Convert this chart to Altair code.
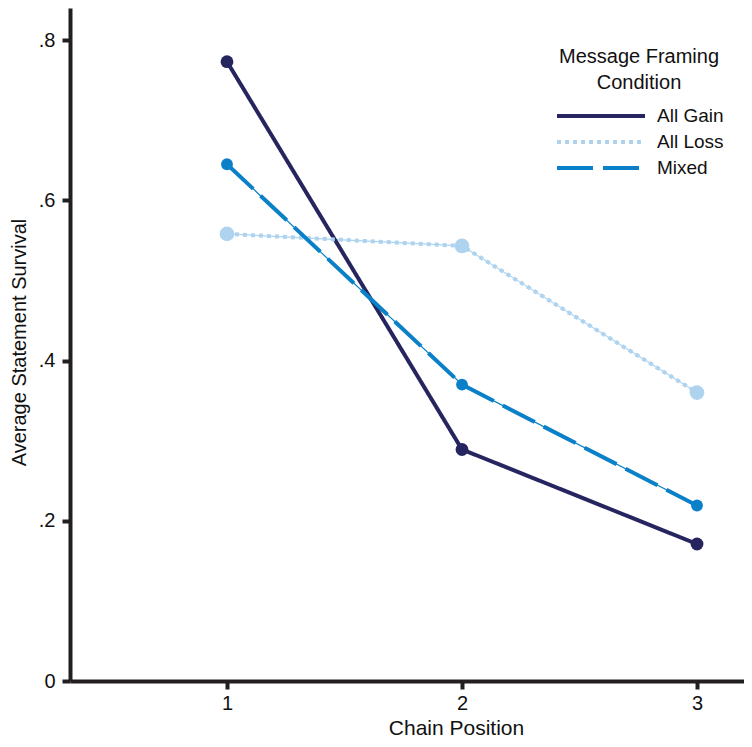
import altair as alt
import pandas as pd

conditions = ["All Gain", "All Loss", "Mixed"]
positions = [1, 2, 3]
all_gain = [0.773, 0.289, 0.171]
all_loss = [0.558, 0.543, 0.360]
mixed = [0.645, 0.370, 0.219]

colors = ["#27255F", "#AED3EE", "#0A80C8"]
dashes = [[1, 0], [4, 4], [36, 10]]
point_sizes = [165, 215, 140]

rows = []
for cond, vals in zip(conditions, [all_gain, all_loss, mixed]):
    for p, v in zip(positions, vals):
        rows.append({"condition": cond, "position": p, "value": v})
df = pd.DataFrame(rows)

FONT = "Liberation Sans"
AX = "#231F20"
TXT = "#111111"

x = alt.X(
    "position:Q",
    scale=alt.Scale(domain=[0.332, 3.2], nice=False, zero=False),
    axis=alt.Axis(
        values=[1, 2, 3], format="d", title="Chain Position", grid=False,
        domainWidth=4, domainColor=AX, tickWidth=4, tickColor=AX, tickSize=8,
        labelFontSize=20, labelColor=TXT, labelFont=FONT, labelPadding=4,
        titleFontSize=21, titleFont=FONT, titleFontWeight="normal", titleColor=TXT,
        titleX=386, titleAnchor="start", titleAlign="center", titlePadding=4,
    ),
)
y = alt.Y(
    "value:Q",
    scale=alt.Scale(domain=[0, 0.84], nice=False),
    axis=alt.Axis(
        values=[0, 0.2, 0.4, 0.6, 0.8], title="Average Statement Survival", grid=False,
        labelExpr="datum.value == 0 ? '0' : replace(format(datum.value, '.1f'), '0.', '.')",
        domainWidth=4, domainColor=AX, tickWidth=4, tickColor=AX, tickSize=8,
        labelFontSize=20, labelColor=TXT, labelFont=FONT, labelPadding=7,
        titleFontSize=20, titleFont=FONT, titleFontWeight="normal", titleColor=TXT,
        titleX=-51, titleY=334, titleAngle=270, titleAlign="center", titleBaseline="middle",
    ),
)

color_scale = alt.Scale(domain=conditions, range=colors)

base = alt.Chart(df)

thin = base.mark_line(strokeWidth=1.2).encode(
    x=x, y=y,
    color=alt.Color("condition:N", scale=color_scale, legend=None),
    detail="condition:N",
)

legend = alt.Legend(
    title=["Message Framing", "Condition"],
    orient="none", legendX=485, legendY=39,
    titleFontSize=20, titleFont=FONT, titleFontWeight="normal", titleColor=TXT,
    titleAnchor="middle", titleAlign="center", titlePadding=10, titleLineHeight=26,
    labelFontSize=19, labelFont=FONT, labelColor=TXT, labelOffset=76,
    symbolType="M-1,0H7", symbolSize=484, symbolStrokeWidth=4,
    rowPadding=3,
)

thick = base.mark_line(strokeWidth=4).encode(
    x=x, y=y,
    color=alt.Color("condition:N", scale=color_scale, legend=legend),
    strokeDash=alt.StrokeDash("condition:N", scale=alt.Scale(domain=conditions, range=dashes), legend=legend),
)

points = base.mark_circle(opacity=1).encode(
    x=x, y=y,
    color=alt.Color("condition:N", scale=color_scale, legend=None),
    size=alt.Size("condition:N", scale=alt.Scale(type="ordinal", domain=conditions, range=point_sizes), legend=None),
)

chart = alt.layer(thin, thick, points).resolve_legend(
    color="independent", strokeDash="independent", size="independent"
).properties(
    width=674, height=673,
    autosize=alt.AutoSizeParams(type="none"),
    padding={"left": 62, "top": 0, "right": 0, "bottom": 66},
).configure_view(stroke=None)

chart.save("out.html", embed_options={"renderer": "svg", "actions": False})
